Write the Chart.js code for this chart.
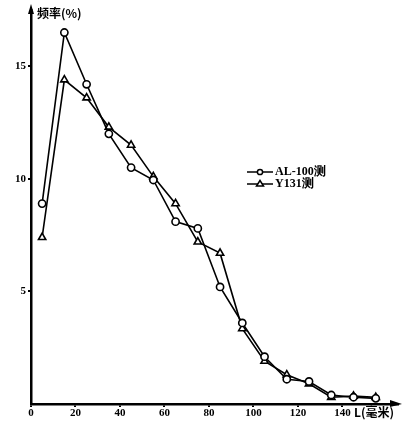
<!DOCTYPE html>
<html>
<head>
<meta charset="utf-8">
<script src="https://cdn.jsdelivr.net/npm/chart.js@4"></script>
<style>
  html, body { margin: 0; padding: 0; background: #fff; }
  #wrap { width: 405px; height: 428px; }
</style>
</head>
<body>
<div id="wrap"><canvas id="lengthChart" width="405" height="428"></canvas></div>
<script>
// 体长组中值（毫米）
const lengths = [5, 15, 25, 35, 45, 55, 65, 75, 85, 95, 105, 115, 125, 135, 145, 155];
// AL-100 测 频率
const al100 = [8.9, 16.5, 14.2, 12.0, 10.5, 9.95, 8.1, 7.8, 5.2, 3.6, 2.1, 1.1, 1.0, 0.4, 0.3, 0.25];
// Y131 测 频率
const y131 = [7.4, 14.4, 13.6, 12.3, 11.5, 10.1, 8.9, 7.2, 6.7, 3.35, 1.9, 1.3, 0.9, 0.3, 0.35, 0.3];
// 刻度
const xTicks = [0, 20, 40, 60, 80, 100, 120, 140];
const yTicks = [5, 10, 15];
const seriesNames = ['AL-100测', 'Y131测'];

const serif = '"Liberation Serif", "DejaVu Serif", serif';
const cjk = '"Noto Sans CJK SC", sans-serif';

// 坐标箭头、轴标题、图例
const decor = {
  id: 'decor',
  afterDraw(chart) {
    const c = chart.ctx;
    const a = chart.chartArea;
    c.save();
    c.fillStyle = '#000';
    c.strokeStyle = '#000';
    // y 轴箭头
    c.beginPath();
    c.moveTo(a.left, a.top - 6);
    c.lineTo(a.left - 3, a.top + 4);
    c.lineTo(a.left + 3, a.top + 4);
    c.closePath();
    c.fill();
    // x 轴箭头
    c.beginPath();
    c.moveTo(a.right + 4, a.bottom);
    c.lineTo(a.right - 8, a.bottom - 4);
    c.lineTo(a.right - 8, a.bottom + 3);
    c.closePath();
    c.fill();
    // 轴标题
    c.font = 'bold 12px ' + cjk;
    c.textBaseline = 'middle';
    c.textAlign = 'left';
    c.fillText('频率(%)', a.left + 6, 13);
    c.fillText('L(毫米)', 354, 412);
    // 图例
    const rows = [
      { y: 172, style: 'circle' },
      { y: 184, style: 'triangle' }
    ];
    rows.forEach((r, i) => {
      c.lineWidth = 1.5;
      c.beginPath();
      c.moveTo(247, r.y);
      c.lineTo(273, r.y);
      c.stroke();
      c.fillStyle = '#fff';
      c.beginPath();
      if (r.style === 'circle') {
        c.arc(260, r.y, 2.6, 0, Math.PI * 2);
      } else {
        c.moveTo(260, r.y - 3.5);
        c.lineTo(256.5, r.y + 2);
        c.lineTo(263.5, r.y + 2);
        c.closePath();
      }
      c.fill();
      c.stroke();
      c.fillStyle = '#000';
      c.font = 'bold 12px ' + serif;
      c.fillText(seriesNames[i], 275, r.y);
    });
    c.restore();
  }
};

new Chart(document.getElementById('lengthChart'), {
  type: 'scatter',
  data: {
    datasets: [
      {
        label: seriesNames[0],
        data: lengths.map((x, i) => ({ x: x, y: al100[i] })),
        showLine: true,
        borderColor: '#000',
        borderWidth: 1.6,
        pointStyle: 'circle',
        pointRadius: 3.6,
        pointBorderWidth: 1.6,
        pointBackgroundColor: '#fff',
        pointBorderColor: '#000'
      },
      {
        label: seriesNames[1],
        data: lengths.map((x, i) => ({ x: x, y: y131[i] })),
        showLine: true,
        borderColor: '#000',
        borderWidth: 1.6,
        pointStyle: 'triangle',
        pointRadius: 4.2,
        pointBorderWidth: 1.6,
        pointBackgroundColor: '#fff',
        pointBorderColor: '#000'
      }
    ]
  },
  options: {
    responsive: false,
    animation: false,
    layout: { padding: { top: 10, right: 7, left: 0, bottom: 0 } },
    plugins: {
      legend: { display: false },
      tooltip: { enabled: false }
    },
    scales: {
      x: {
        type: 'linear',
        min: 0,
        max: 165,
        afterBuildTicks: (s) => { s.ticks = xTicks.map(v => ({ value: v })); },
        afterFit: (s) => { s.height = 24; },
        border: { color: '#000', width: 2.5 },
        grid: { drawOnChartArea: false, color: '#000', tickLength: 3, lineWidth: 2 },
        ticks: {
          color: '#000',
          padding: 0,
          maxRotation: 0,
          font: { family: serif, size: 11, weight: 'bold' }
        }
      },
      y: {
        min: 0,
        max: 17.5,
        afterBuildTicks: (s) => { s.ticks = yTicks.map(v => ({ value: v })); },
        afterFit: (s) => { s.width = 31; },
        border: { color: '#000', width: 2.5 },
        grid: { drawOnChartArea: false, color: '#000', tickLength: 3, lineWidth: 2 },
        ticks: {
          color: '#000',
          padding: 2,
          font: { family: serif, size: 11, weight: 'bold' }
        }
      }
    }
  },
  plugins: [decor]
});
</script>
</body>
</html>
